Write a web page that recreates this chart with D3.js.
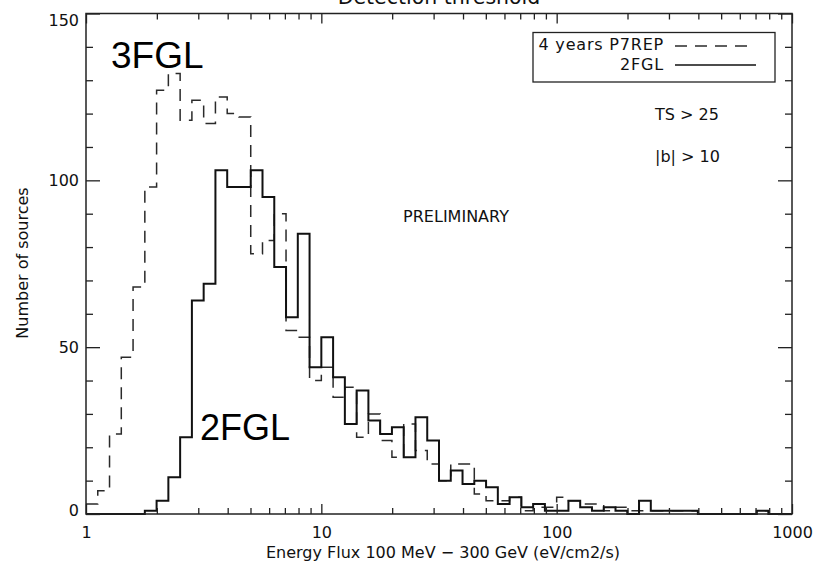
<!DOCTYPE html>
<html><head><meta charset="utf-8">
<script src="https://cdn.jsdelivr.net/npm/d3@7"></script>
<style>html,body{margin:0;padding:0;background:#fff;overflow:hidden;} svg{display:block;}</style>
</head><body><svg id="c" width="831" height="566"></svg>
<script>
// ---- data ----
// lower edge of each histogram bin, as log10 of the energy flux
const binLog10Start = [0.00,0.05,0.10,0.15,0.20,0.25,0.30,0.35,0.40,0.45,
  0.50,0.55,0.60,0.65,0.70,0.75,0.80,0.85,0.90,0.95,
  1.00,1.05,1.10,1.15,1.20,1.25,1.30,1.35,1.40,1.45,
  1.50,1.55,1.60,1.65,1.70,1.75,1.80,1.85,1.90,1.95,
  2.00,2.05,2.10,2.15,2.20,2.25,2.30,2.35,2.40,2.45,
  2.50,2.55,2.60,2.65,2.70,2.75,2.80,2.85,2.90,2.95];
const binLog10End = 3.0;
// dashed histogram: 4 years P7REP (3FGL)
const counts4yrP7REP = [3,7,24,47,68, 98,127,132,118,124,
  117,125,120,119,78, 82,90,55,53,40,
  44,35,38,23,30, 22,17,27,19,15,
  10,15,15,6,4, 4,5,1,2,2,
  5,4,3,3,1, 2,1,1,1,1,
  1,1,0,0,0, 0,0,1,0,0];
// solid histogram: 2FGL
const counts2FGL = [0,0,0,0,0, 1,4,11,23,64,
  69,103,98,98,103, 95,74,59,84,44,
  53,41,27,37,28, 24,26,17,29,22,
  10,13,9,10,8, 3,5,2,3,1,
  1,4,2,1,2, 1,0,4,1,1,
  1,1,0,0,0, 0,0,1,0,0];
const xMajorTicks = [1,10,100,1000];
const xTickLabels = ["1","10","100","1000"];
const xMinorTicks = [2,3,4,5,6,7,8,9,20,30,40,50,60,70,80,90,200,300,400,500,600,700,800,900];
const yMajorTicks = [0,50,100,150];
const yTickLabels = ["0","50","100","150"];
const yMinorTicks = [10,20,30,40,60,70,80,90,110,120,130,140];
const legendLabels = ["4 years P7REP","2FGL"];
const titleText = "Detection threshold";
const xLabel = "Energy Flux 100 MeV \u2212 300 GeV (eV/cm2/s)";
const yLabel = "Number of sources";
const noteLines = ["TS > 25","|b| > 10"];
const prelimText = "PRELIMINARY";
const bigLabels = ["3FGL","2FGL"];

// ---- drawing ----
const svg = d3.select("#c");
const L = 86, R = 792, T = 13.5, B = 514;
const x = d3.scaleLog().domain([1,1000]).range([L,R]);
const y = d3.scaleLinear().domain([0,150]).range([B,T]);
const ink = "#222";
const FONT = "'DejaVu Sans', sans-serif";

svg.append("rect").attr("width",831).attr("height",566).attr("fill","#fff");

function stepPoints(counts){
  const pts = binLog10Start.map((e,i)=>[x(Math.pow(10,e)), y(counts[i])]);
  pts.push([x(Math.pow(10,binLog10End)), y(counts[counts.length-1])]);
  return pts;
}
const line = d3.line().curve(d3.curveStepAfter);

svg.append("path").attr("d", line(stepPoints(counts4yrP7REP)))
  .attr("fill","none").attr("stroke","#2a2a2a").attr("stroke-width",1.5)
  .attr("stroke-dasharray","12,8");
svg.append("path").attr("d", line(stepPoints(counts2FGL)))
  .attr("fill","none").attr("stroke","#111").attr("stroke-width",2);

// axes (ticks inward on all four sides)
function styleAxis(g){
  g.select(".domain").remove();
  g.selectAll("line").attr("stroke",ink).attr("stroke-width",1.3);
  g.selectAll("text").attr("font-family",FONT).attr("font-size",16).attr("fill","#111");
}
svg.append("g").attr("transform",`translate(0,${B})`)
  .call(d3.axisBottom(x).tickValues(xMajorTicks).tickSize(-10).tickPadding(12.6)
    .tickFormat((d,i)=>xTickLabels[i])).call(styleAxis);
svg.append("g").attr("transform",`translate(0,${B})`)
  .call(d3.axisBottom(x).tickValues(xMinorTicks).tickSize(-6).tickFormat("")).call(styleAxis);
svg.append("g").attr("transform",`translate(0,${T})`)
  .call(d3.axisTop(x).tickValues(xMajorTicks).tickSize(-10).tickFormat("")).call(styleAxis);
svg.append("g").attr("transform",`translate(0,${T})`)
  .call(d3.axisTop(x).tickValues(xMinorTicks).tickSize(-6).tickFormat("")).call(styleAxis);

const gy = svg.append("g").attr("transform",`translate(${L},0)`)
  .call(d3.axisLeft(y).tickValues(yMajorTicks).tickSize(-14).tickPadding(7)
    .tickFormat((d,i)=>yTickLabels[i])).call(styleAxis);
gy.selectAll(".tick text").attr("dy",(d)=> d===150 ? "0.72em" : d===0 ? "0.1em" : "0.34em");
svg.append("g").attr("transform",`translate(${L},0)`)
  .call(d3.axisLeft(y).tickValues(yMinorTicks).tickSize(-7).tickFormat("")).call(styleAxis);
svg.append("g").attr("transform",`translate(${R},0)`)
  .call(d3.axisRight(y).tickValues(yMajorTicks).tickSize(-14).tickFormat("")).call(styleAxis);
svg.append("g").attr("transform",`translate(${R},0)`)
  .call(d3.axisRight(y).tickValues(yMinorTicks).tickSize(-7).tickFormat("")).call(styleAxis);

svg.append("rect").attr("x",L).attr("y",T).attr("width",R-L).attr("height",B-T)
  .attr("fill","none").attr("stroke",ink).attr("stroke-width",1.5);

// titles
svg.append("text").attr("x",(L+R)/2).attr("y",4).attr("text-anchor","middle")
  .attr("font-family",FONT).attr("font-size",20.5).attr("fill","#111").text(titleText);
svg.append("text").attr("x",443).attr("y",558).attr("text-anchor","middle")
  .attr("font-family",FONT).attr("font-size",16).attr("fill","#111").text(xLabel);
svg.append("text").attr("transform","translate(28,263) rotate(-90)").attr("text-anchor","middle")
  .attr("font-family",FONT).attr("font-size",16).attr("fill","#111").text(yLabel);

// legend
const lg = svg.append("g");
lg.append("rect").attr("x",533).attr("y",32.5).attr("width",242).attr("height",49.5)
  .attr("fill","#fff").attr("stroke",ink).attr("stroke-width",1.3);
lg.append("text").attr("x",664).attr("y",50).attr("text-anchor","end").attr("letter-spacing",0.8)
  .attr("font-family",FONT).attr("font-size",16).attr("fill","#111").text(legendLabels[0]);
lg.append("text").attr("x",664).attr("y",69.5).attr("text-anchor","end").attr("letter-spacing",0.8)
  .attr("font-family",FONT).attr("font-size",16).attr("fill","#111").text(legendLabels[1]);
lg.append("line").attr("x1",675).attr("x2",748).attr("y1",46).attr("y2",46)
  .attr("stroke","#2a2a2a").attr("stroke-width",1.5).attr("stroke-dasharray","12,8");
lg.append("line").attr("x1",675).attr("x2",756).attr("y1",65).attr("y2",65)
  .attr("stroke","#111").attr("stroke-width",1.5);

// notes
svg.append("text").attr("x",655).attr("y",120).attr("font-family",FONT).attr("font-size",16)
  .attr("fill","#111").text(noteLines[0]);
svg.append("text").attr("x",655).attr("y",161.5).attr("font-family",FONT).attr("font-size",16)
  .attr("fill","#111").text(noteLines[1]);
svg.append("text").attr("x",456).attr("y",221.5).attr("text-anchor","middle").attr("font-family",FONT).attr("font-size",16)
  .attr("fill","#111").text(prelimText);

// big labels
svg.append("text").attr("x",111).attr("y",68).attr("font-family","'Liberation Sans', Arial, sans-serif")
  .attr("font-size",37).attr("fill","#000").text(bigLabels[0]);
svg.append("text").attr("x",200).attr("y",440).attr("font-family","'Liberation Sans', Arial, sans-serif")
  .attr("font-size",36).attr("fill","#000").text(bigLabels[1]);
</script></body></html>
